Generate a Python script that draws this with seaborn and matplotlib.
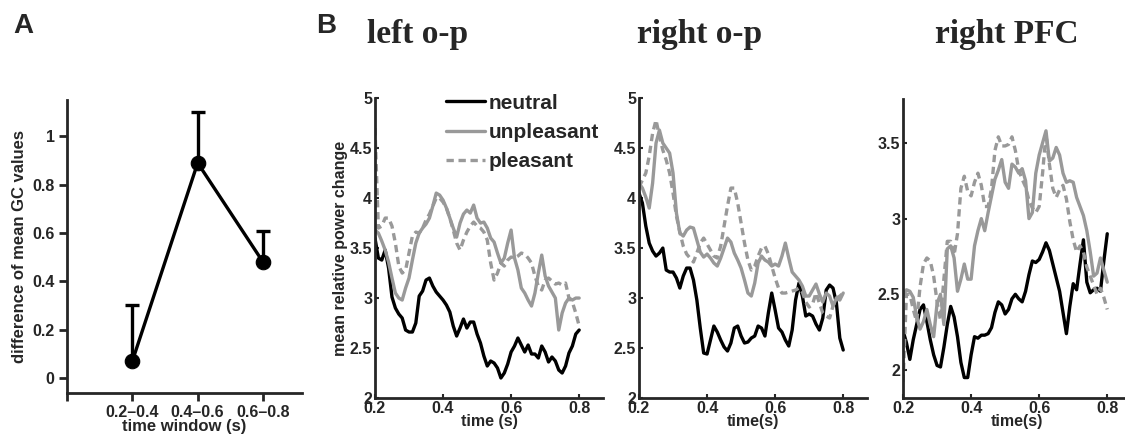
import numpy as np
import pandas as pd
import matplotlib
matplotlib.use("Agg")
import matplotlib.pyplot as plt
import seaborn as sns

# -----------------------------
# Data
# -----------------------------
windows = ['0.2–0.4', '0.4–0.6', '0.6–0.8']
gc_diff = [0.07, 0.89, 0.48]
gc_err_up = [0.23, 0.21, 0.13]

time_s = np.linspace(0.2, 0.8, 61)

left_neutral = [3.60, 3.40, 3.38, 3.48, 3.30, 3.01, 2.90, 2.84, 2.80, 2.68,
                2.66, 2.66, 2.75, 3.02, 3.07, 3.18, 3.20, 3.12, 3.06, 3.02,
                2.98, 2.93, 2.86, 2.72, 2.62, 2.70, 2.79, 2.70, 2.76, 2.76,
                2.64, 2.55, 2.42, 2.32, 2.37, 2.35, 2.30, 2.20, 2.25, 2.34,
                2.46, 2.52, 2.60, 2.53, 2.46, 2.53, 2.44, 2.44, 2.40, 2.52,
                2.46, 2.36, 2.41, 2.37, 2.28, 2.25, 2.32, 2.45, 2.52, 2.64, 2.68]
left_unpleasant = [3.68, 3.65, 3.57, 3.48, 3.36, 3.20, 3.05, 3.00, 2.98, 3.10,
                   3.20, 3.38, 3.55, 3.65, 3.70, 3.74, 3.80, 3.92, 4.05, 4.03,
                   3.98, 3.90, 3.80, 3.70, 3.61, 3.75, 3.84, 3.88, 3.85, 3.93,
                   3.80, 3.75, 3.76, 3.70, 3.60, 3.56, 3.45, 3.35, 3.40, 3.55,
                   3.68, 3.40, 3.28, 3.10, 3.05, 2.98, 2.92, 3.05, 3.25, 3.43,
                   3.22, 3.12, 3.06, 3.00, 2.68, 2.85, 2.95, 3.00, 2.98, 3.00, 3.00]
left_pleasant = [4.70, 3.70, 3.72, 3.80, 3.80, 3.72, 3.55, 3.32, 3.25, 3.28,
                 3.45, 3.62, 3.66, 3.65, 3.70, 3.78, 3.84, 3.92, 4.00, 4.00,
                 3.96, 3.90, 3.80, 3.68, 3.55, 3.48, 3.58, 3.66, 3.72, 3.76,
                 3.72, 3.70, 3.66, 3.58, 3.35, 3.18, 3.25, 3.35, 3.32, 3.38,
                 3.41, 3.40, 3.42, 3.45, 3.44, 3.40, 3.35, 3.22, 3.12, 3.08,
                 3.18, 3.20, 3.17, 3.14, 3.15, 3.13, 3.15, 3.00, 2.96, 2.85, 2.72]

right_neutral = [4.05, 3.95, 3.72, 3.55, 3.47, 3.42, 3.45, 3.50, 3.28, 3.26,
                 3.26, 3.20, 3.10, 3.22, 3.30, 3.30, 3.18, 2.98, 2.70, 2.45,
                 2.44, 2.58, 2.72, 2.66, 2.58, 2.51, 2.47, 2.55, 2.70, 2.72,
                 2.62, 2.55, 2.56, 2.60, 2.62, 2.72, 2.70, 2.62, 2.85, 3.05,
                 2.88, 2.70, 2.66, 2.58, 2.52, 2.68, 2.98, 3.15, 3.02, 2.82,
                 2.84, 2.82, 2.74, 2.68, 2.80, 3.08, 3.13, 3.10, 2.95, 2.60, 2.48]
right_unpleasant = [4.15, 4.10, 4.01, 3.90, 4.15, 4.55, 4.68, 4.55, 4.50, 4.45,
                    4.25, 3.85, 3.65, 3.62, 3.68, 3.71, 3.70, 3.58, 3.46, 3.41,
                    3.44, 3.40, 3.35, 3.32, 3.40, 3.50, 3.60, 3.56, 3.45, 3.38,
                    3.30, 3.18, 3.05, 3.02, 3.15, 3.35, 3.42, 3.38, 3.36, 3.32,
                    3.34, 3.32, 3.42, 3.55, 3.40, 3.26, 3.22, 3.18, 3.12, 3.02,
                    3.02, 3.08, 3.14, 3.04, 2.96, 3.05, 3.02, 2.92, 3.00, 2.98, 3.05]
right_pleasant = [4.11, 4.18, 4.25, 4.42, 4.65, 4.78, 4.62, 4.48, 4.38, 4.25,
                  4.05, 3.82, 3.66, 3.52, 3.44, 3.40, 3.36, 3.45, 3.55, 3.60,
                  3.54, 3.48, 3.42, 3.40, 3.52, 3.72, 3.92, 4.10, 4.10, 3.95,
                  3.75, 3.55, 3.38, 3.28, 3.32, 3.42, 3.50, 3.52, 3.44, 3.32,
                  3.20, 3.10, 3.05, 3.05, 3.06, 3.07, 3.08, 3.10, 3.06, 2.96,
                  2.91, 2.94, 3.05, 2.95, 2.85, 2.82, 2.80, 2.92, 3.00, 3.02, 3.05]

pfc_neutral = [2.26, 2.18, 2.07, 2.20, 2.30, 2.40, 2.43, 2.32, 2.20, 2.10,
               2.03, 2.02, 2.15, 2.30, 2.42, 2.35, 2.22, 2.05, 1.95, 1.95,
               2.10, 2.22, 2.21, 2.23, 2.23, 2.24, 2.28, 2.38, 2.45, 2.43,
               2.37, 2.40, 2.47, 2.50, 2.47, 2.45, 2.52, 2.63, 2.72, 2.71,
               2.73, 2.78, 2.84, 2.79, 2.70, 2.61, 2.52, 2.38, 2.24, 2.42,
               2.57, 2.53, 2.70, 2.86, 2.58, 2.51, 2.53, 2.54, 2.52, 2.72, 2.90]
pfc_unpleasant = [2.49, 2.53, 2.52, 2.48, 2.35, 2.27, 2.32, 2.40, 2.30, 2.22,
                  2.44, 2.50, 2.30, 2.80, 2.82, 2.74, 2.52, 2.60, 2.70, 2.60,
                  2.60, 2.82, 2.92, 3.00, 2.92, 3.04, 3.15, 3.26, 3.32, 3.39,
                  3.24, 3.20, 3.36, 3.34, 3.30, 3.33, 3.25, 3.00, 3.04, 3.30,
                  3.42, 3.50, 3.58, 3.38, 3.40, 3.47, 3.42, 3.30, 3.24, 3.25,
                  3.24, 3.14, 3.08, 3.02, 2.92, 2.78, 2.62, 2.64, 2.74, 2.66, 2.58]
pfc_pleasant = [1.92, 2.50, 2.50, 2.40, 2.32, 2.55, 2.70, 2.74, 2.72, 2.62,
                2.45, 2.33, 2.60, 2.85, 2.85, 2.76, 2.90, 3.20, 3.28, 3.18,
                3.15, 3.24, 3.30, 3.22, 3.08, 3.08, 3.20, 3.45, 3.54, 3.48,
                3.48, 3.49, 3.54, 3.45, 3.32, 3.26, 3.21, 3.12, 3.07, 3.04,
                3.08, 3.30, 3.56, 3.36, 3.20, 3.14, 3.19, 3.22, 3.13, 2.98,
                2.86, 2.78, 2.82, 2.78, 2.68, 2.62, 2.56, 2.50, 2.54, 2.48, 2.40]

regions = ['left o-p', 'right o-p', 'right PFC']
series = {
    'left o-p': (left_neutral, left_unpleasant, left_pleasant),
    'right o-p': (right_neutral, right_unpleasant, right_pleasant),
    'right PFC': (pfc_neutral, pfc_unpleasant, pfc_pleasant),
}

# -----------------------------
# Style
# -----------------------------
sns.set_style('ticks')
plt.rcParams['font.family'] = ['Liberation Sans', 'DejaVu Sans']
plt.rcParams['font.weight'] = 'bold'
plt.rcParams['axes.labelweight'] = 'bold'
plt.rcParams['axes.linewidth'] = 2.0

GRAY = '#999999'

fig = plt.figure(figsize=(11.25, 4.41), dpi=100)

# -----------------------------
# Panel A
# -----------------------------
axA = fig.add_axes([0.0596, 0.109, 0.209, 0.664])
xpos = np.arange(1, len(windows) + 1)
axA.errorbar(xpos, gc_diff, yerr=[np.zeros(3), gc_err_up], fmt='none',
             ecolor='black', elinewidth=2.4, capsize=5, capthick=2.4)
sns.lineplot(x=xpos, y=gc_diff, ax=axA, color='black', linewidth=2.4,
             marker='o', markersize=10.5, markeredgecolor='black')
axA.set_xlim(0, 3.6)
axA.set_ylim(-0.062, 1.15)
axA.set_xticks([0, 1, 2, 3])
axA.set_xticklabels([''] + windows)
axA.set_yticks([0, 0.2, 0.4, 0.6, 0.8, 1])
axA.set_yticklabels(['0', '0.2', '0.4', '0.6', '0.8', '1'])
axA.tick_params(direction='out', length=6, width=2, labelsize=11.5, pad=3)
axA.set_xlabel('time window (s)', fontsize=12, labelpad=-1)
axA.set_ylabel('difference of mean GC values', fontsize=12, labelpad=4)
sns.despine(ax=axA)

fig.text(0.012, 0.94, 'A', fontsize=20, fontweight='bold', va='center')
fig.text(0.281, 0.94, 'B', fontsize=20, fontweight='bold', va='center')

# -----------------------------
# Panel B
# -----------------------------
lefts = [0.3333, 0.568, 0.8027]
xlabels = ['time (s)', 'time(s)', 'time(s)']
title_x = [418, 700, 1007]

for i, region in enumerate(regions):
    if i < 2:
        ax = fig.add_axes([lefts[i], 0.0975, 0.2027, 0.680])
    else:
        ax = fig.add_axes([lefts[i], 0.0975, 0.2027, 0.678])
    neutral, unpleasant, pleasant = series[region]
    sns.lineplot(x=time_s, y=neutral, ax=ax, color='black', linewidth=2.4,
                 label='neutral')
    sns.lineplot(x=time_s, y=unpleasant, ax=ax, color=GRAY, linewidth=2.4,
                 label='unpleasant')
    sns.lineplot(x=time_s, y=pleasant, ax=ax, color=GRAY, linewidth=2.4,
                 linestyle=(0, (2.2, 1.4)), label='pleasant')
    ax.set_xlim(0.2, 0.87)
    ax.set_xticks([0.2, 0.4, 0.6, 0.8])
    ax.set_xticklabels(['0.2', '0.4', '0.6', '0.8'])
    if i < 2:
        ax.set_ylim(2, 5)
        ax.set_yticks([2, 2.5, 3, 3.5, 4, 4.5, 5])
        ax.set_yticklabels(['2', '2.5', '3', '3.5', '4', '4.5', '5'])
    else:
        ax.set_ylim(1.815, 3.79)
        ax.set_yticks([2, 2.5, 3, 3.5])
        ax.set_yticklabels(['2', '2.5', '3', '3.5'])
    ax.tick_params(direction='in', length=3, width=1.5, labelsize=11.5, pad=2)
    ax.set_xlabel(xlabels[i], fontsize=11.5, labelpad=-1)
    if i == 0:
        ax.set_ylabel('mean relative power change', fontsize=11.5, labelpad=1)
        ax.legend(loc='upper left', bbox_to_anchor=(0.31, 1.015), frameon=False,
                  fontsize=15, handlelength=1.9, handletextpad=0.15,
                  labelspacing=0.5, borderaxespad=0, borderpad=0)
    else:
        ax.get_legend().remove()
    sns.despine(ax=ax)
    fig.text(title_x[i] / 1125, 1 - 35 / 441, region, ha='center', va='center',
             fontsize=24, fontweight='bold', family='Liberation Serif')

fig.savefig('out.png', dpi=100)
